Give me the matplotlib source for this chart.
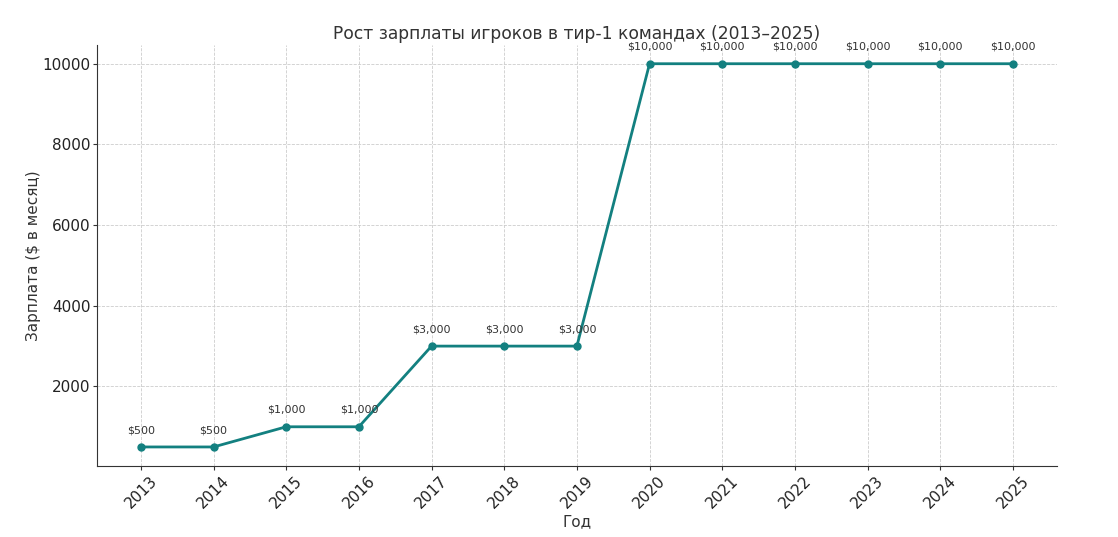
import matplotlib
matplotlib.use("Agg")
import matplotlib.pyplot as plt

# Data
years = [2013, 2014, 2015, 2016, 2017, 2018, 2019, 2020, 2021, 2022, 2023, 2024, 2025]
salary = [500, 500, 1000, 1000, 3000, 3000, 3000, 10000, 10000, 10000, 10000, 10000, 10000]

fig, ax = plt.subplots(figsize=(11.18, 5.37), dpi=100)

ax.plot(years, salary, color='#138080', marker='o', markersize=5, linewidth=2)

# Value labels above points
for x, y in zip(years, salary):
    ax.annotate(f"${y:,}", (x, y), textcoords='offset points', xytext=(0, 10),
                ha='center', fontsize=8, color='#333333')

ax.set_title('Рост зарплаты игроков в тир-1 командах (2013–2025)', fontsize=12.3,
             color='#333333', pad=4)
ax.set_xlabel('Год', fontsize=11, color='#333333', labelpad=2)
ax.set_ylabel('Зарплата ($ в месяц)', fontsize=11, color='#333333', labelpad=1)
ax.set_xticks(years)
ax.set_xticklabels([str(y) for y in years], rotation=45, fontsize=11)
ax.tick_params(axis='both', length=3, pad=2, colors='#333333', labelcolor='#222222')
ax.tick_params(axis='y', labelsize=11)
ax.grid(True, linestyle='--', linewidth=0.6, color='#cccccc')
ax.set_axisbelow(True)
for side in ['top', 'right']:
    ax.spines[side].set_visible(False)
for side in ['left', 'bottom']:
    ax.spines[side].set_color('#333333')

fig.subplots_adjust(left=0.087, right=0.945, top=0.917, bottom=0.132)
fig.savefig('out.png', dpi=100)
